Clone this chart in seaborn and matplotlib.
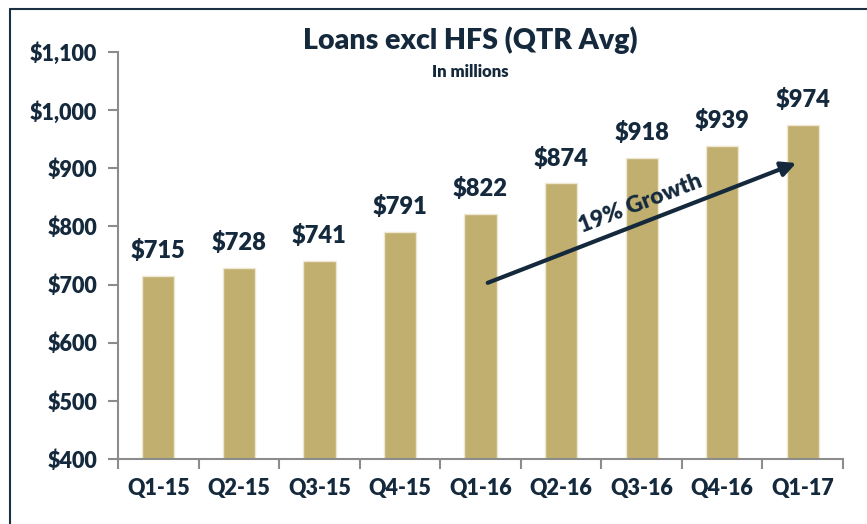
import matplotlib
matplotlib.use("Agg")
import matplotlib.pyplot as plt
import matplotlib.ticker as mtick
import pandas as pd
import seaborn as sns
from matplotlib.lines import Line2D

# dados do gráfico
quarters = ["Q1-15", "Q2-15", "Q3-15", "Q4-15", "Q1-16", "Q2-16", "Q3-16", "Q4-16", "Q1-17"]
loans = [715, 728, 741, 791, 822, 874, 918, 939, 974]
y_ticks = [400, 500, 600, 700, 800, 900, 1000, 1100]

navy = "#15293D"
gold = "#C0AF6E"
peso = "heavy"

sns.set_theme(style="white")
plt.rcParams["font.family"] = ["Lato", "DejaVu Sans"]

df = pd.DataFrame({"quarter": quarters, "loans": loans})

fig = plt.figure(figsize=(8.67, 5.24), dpi=100)
ax = fig.add_axes([118 / 867, 1 - 459 / 524, (843 - 118) / 867, (459 - 52) / 524])

sns.barplot(data=df, x="quarter", y="loans", color=gold, width=0.4, saturation=1,
            edgecolor="#EEE8D2", linewidth=1, ax=ax)

ax.set_ylim(400, 1100)
ax.set_xlim(-0.5, len(quarters) - 0.5)
ax.set_yticks(y_ticks)
ax.yaxis.set_major_formatter(mtick.FuncFormatter(lambda v, p: f"${v:,.0f}"))
ax.set_xlabel("")
ax.set_ylabel("")

# ticks do eixo x nas fronteiras das categorias
ax.set_xticks([i + 0.5 for i in range(-1, len(quarters))], minor=True)
ax.tick_params(axis="x", which="major", length=0, pad=14, labelsize=15.5, labelcolor=navy)
ax.tick_params(axis="x", which="minor", length=7, width=1.5, color="#8C8C8C", direction="out", bottom=True)
ax.tick_params(axis="y", length=7, width=1.5, color="#8C8C8C", direction="out", left=True,
               labelsize=15.5, labelcolor=navy, pad=8)
for lab in ax.get_xticklabels() + ax.get_yticklabels():
    lab.set_fontweight(peso)

for s in ["top", "right"]:
    ax.spines[s].set_visible(False)
for s in ["left", "bottom"]:
    ax.spines[s].set_color("#8C8C8C")
    ax.spines[s].set_linewidth(1.5)

# rótulos de valor
for i, v in enumerate(loans):
    ax.annotate(f"${v}", (i, v), xytext=(0, 10), textcoords="offset points",
                ha="center", va="bottom", fontsize=17, fontweight=peso, color=navy)

# seta de crescimento
ax.annotate("", xy=(7.92, 909), xytext=(4.09, 703),
            arrowprops=dict(arrowstyle="-|>", color=navy, lw=3, mutation_scale=22,
                            shrinkA=0, shrinkB=0))
ax.text(5.98, 840, "19% Growth", rotation=21, ha="center", va="center",
        fontsize=16.5, fontweight=peso, color=navy, rotation_mode="anchor")

# título
fig.text(470 / 867, 1 - 40 / 524, "Loans excl HFS (QTR Avg)", ha="center", va="center",
         fontsize=20.5, fontweight=peso, color=navy)
fig.text(470 / 867, 1 - 72 / 524, "In millions", ha="center", va="center",
         fontsize=12, fontweight=peso, color=navy)

# moldura
fig.add_artist(Line2D([10 / 867, 1], [1 - 9 / 524, 1 - 9 / 524], color="#1C3044", lw=1.5,
                      transform=fig.transFigure))
fig.add_artist(Line2D([10 / 867, 10 / 867], [0, 1 - 9 / 524], color="#1C3044", lw=1.5,
                      transform=fig.transFigure))

fig.savefig("out.png", dpi=100)
